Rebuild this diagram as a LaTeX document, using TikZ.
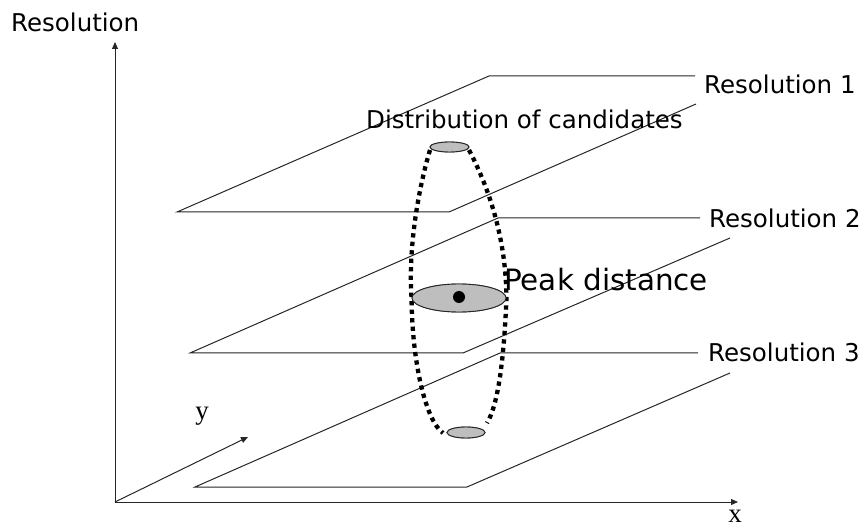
\documentclass[tikz,border=0pt]{standalone}
\usepackage{fontspec}
\setmainfont{DejaVu Sans}
\newfontfamily\serifx{Liberation Serif}
\usetikzlibrary{arrows.meta,shapes.geometric}
\definecolor{ellgray}{RGB}{190,190,190}
\begin{document}
\begin{tikzpicture}[x=1pt,y=-1pt,
  plane/.style={draw=black!85, line width=1pt},
  axisline/.style={draw=black!85, line width=1pt, -{Triangle[length=7pt,width=6pt]}},
  lbl/.style={anchor=base west, inner sep=0pt, font=\fontsize{24.5}{26}\selectfont},
  axlbl/.style={anchor=base, inner sep=0pt, font=\serifx\fontsize{27}{29}\selectfont},
  cand/.style={draw=black, line width=4.3pt, dash pattern=on 4.3pt off 4.2pt},
  disk/.style={ellipse, draw=black!85, fill=ellgray, line width=0.9pt, inner sep=0pt}
]
\useasboundingbox (0,0) rectangle (868,529);

% axes
\coordinate (O) at (115,502);
\coordinate (Ytop) at (115,42);
\coordinate (Xend) at (738,502);
\coordinate (Yend) at (248,437);
\draw[axisline] (O) -- (Ytop);
\draw[axisline] (O) -- (Xend);
\draw[axisline] (O) -- (Yend);

% plane 1
\coordinate (p1a) at (177,212);
\coordinate (p1b) at (449,212);
\coordinate (p1c) at (489,76);
\coordinate (p1d) at (695,76);
\coordinate (p1e) at (696,104);
\draw[plane] (p1d) -- (p1c) -- (p1a) -- (p1b) -- (p1e);

% plane 2
\coordinate (p2a) at (190,353);
\coordinate (p2b) at (463,353);
\coordinate (p2c) at (498,218);
\coordinate (p2d) at (700,218);
\coordinate (p2e) at (730,238);
\draw[plane] (p2d) -- (p2c) -- (p2a) -- (p2b) -- (p2e);

% plane 3
\coordinate (p3a) at (195,487);
\coordinate (p3b) at (467,487);
\coordinate (p3c) at (500,353);
\coordinate (p3d) at (698,353);
\coordinate (p3e) at (730,373);
\draw[plane] (p3d) -- (p3c) -- (p3a) -- (p3b) -- (p3e);

% distribution nodes
\node[disk, minimum width=39pt, minimum height=10pt] (top) at (449.5,147) {};
\node[disk, minimum width=94pt, minimum height=28pt] (mid) at (459,298) {};
\node[disk, minimum width=38pt, minimum height=11pt] (bot) at (466,432.5) {};

% dotted envelope
\draw[cand] (430,150) .. controls (418,190) and (408,250) .. (mid.west)
            .. controls (412,360) and (425,420) .. (443,433);
\draw[cand] (469,150) .. controls (490,190) and (506,240) .. (mid.east)
            .. controls (504,360) and (498,405) .. (487,423);

% redraw disks on top
\node[disk, minimum width=39pt, minimum height=10pt] (top2) at (top) {};
\node[disk, minimum width=94pt, minimum height=28pt] (mid2) at (mid) {};
\node[disk, minimum width=38pt, minimum height=11pt] (bot2) at (bot) {};
\node[circle, fill=black, minimum width=12pt, minimum height=10pt, inner sep=0pt] (peak) at (459,297) {};

% labels
\node[lbl] (lres) at (11,32) {Resolution};
\node[lbl] (lr1) at (704,94) {Resolution 1};
\node[lbl] (lr2) at (709,228) {Resolution 2};
\node[lbl] (lr3) at (708,362) {Resolution 3};
\node[lbl] (ldist) at (366,129) {Distribution of candidates};
\node[lbl, font=\fontsize{29.4}{31}\selectfont] (lpeak) at (504,291) {Peak distance};
\node[axlbl] (lx) at (735,522) {x};
\node[axlbl] (ly) at (202,420) {y};
\end{tikzpicture}
\end{document}
